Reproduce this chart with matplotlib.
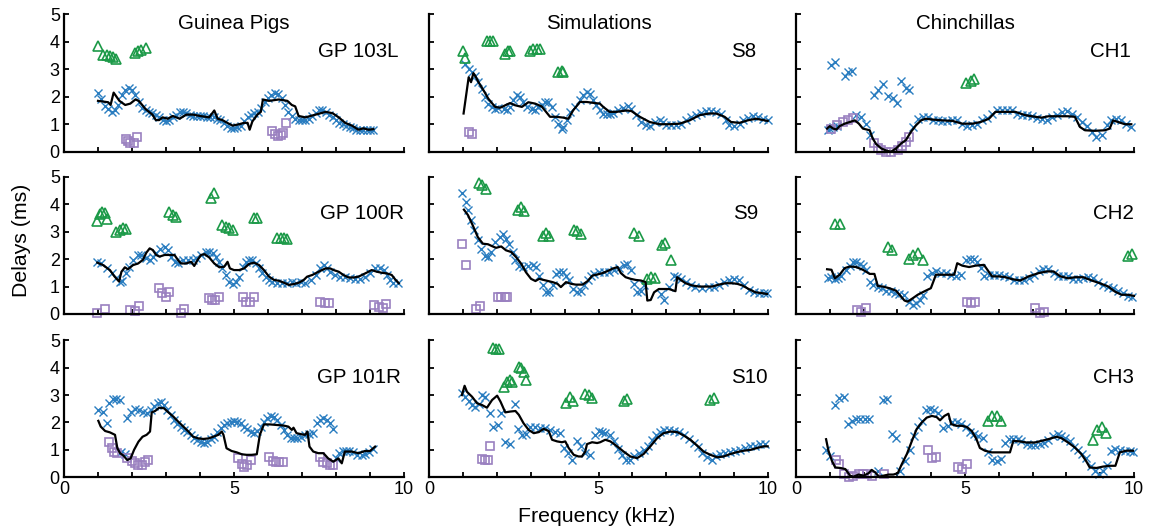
import matplotlib
matplotlib.use("Agg")
import matplotlib.pyplot as plt

plt.rcParams['font.family'] = ['Liberation Sans', 'DejaVu Sans']

# ---- data: (frequency kHz, delay ms) pairs ----
gp103l_cross = [(1.0, 2.15), (1.1, 1.9), (1.2, 1.65), (1.3, 1.55), (1.4, 1.45), (1.5, 1.5), (1.6, 1.7),
                (1.7, 2.05), (1.8, 2.25), (1.9, 2.3), (2.0, 2.25), (2.1, 2.05), (2.2, 1.8), (2.3, 1.6),
                (2.4, 1.5), (2.5, 1.45), (2.6, 1.4), (2.7, 1.35), (2.8, 1.25), (2.9, 1.15), (3.0, 1.1),
                (3.1, 1.15), (3.2, 1.25), (3.3, 1.35), (3.4, 1.45), (3.5, 1.45), (3.6, 1.4), (3.7, 1.35),
                (3.8, 1.3), (3.9, 1.3), (4.0, 1.3), (4.1, 1.3), (4.2, 1.25), (4.3, 1.25), (4.4, 1.25),
                (4.5, 1.2), (4.6, 1.15), (4.7, 1.05), (4.8, 0.95), (4.9, 0.85), (5.0, 0.85), (5.1, 0.9),
                (5.2, 0.95), (5.3, 1.1), (5.4, 1.25), (5.5, 1.35), (5.6, 1.4), (5.7, 1.45), (5.8, 1.6),
                (5.9, 1.8), (6.0, 1.95), (6.1, 2.05), (6.2, 2.15), (6.3, 2.1), (6.4, 1.95), (6.5, 1.7),
                (6.6, 1.45), (6.7, 1.3), (6.8, 1.2), (6.9, 1.15), (7.0, 1.15), (7.1, 1.15), (7.2, 1.2),
                (7.3, 1.3), (7.4, 1.4), (7.5, 1.5), (7.6, 1.5), (7.7, 1.45), (7.8, 1.35), (7.9, 1.25),
                (8.0, 1.15), (8.1, 1.05), (8.2, 1.0), (8.3, 0.95), (8.4, 0.9), (8.5, 0.85), (8.6, 0.8),
                (8.7, 0.8), (8.8, 0.8), (8.9, 0.8), (9.0, 0.8), (9.1, 0.8)]
gp103l_line = [(1.0, 1.85), (1.3, 1.8), (1.37, 1.7), (1.46, 2.15), (1.63, 1.85), (1.8, 1.7), (1.95, 1.75),
               (2.1, 1.9), (2.2, 1.85), (2.4, 1.55), (2.6, 1.35), (2.7, 1.15), (2.8, 1.15), (2.9, 1.25),
               (3.05, 1.2), (3.2, 1.3), (3.4, 1.2), (3.6, 1.35), (3.8, 1.35), (4.0, 1.3), (4.27, 1.25),
               (4.42, 1.5), (4.52, 1.2), (4.66, 1.15), (4.8, 1.05), (4.96, 0.95), (5.15, 1.0), (5.3, 1.05),
               (5.4, 1.05), (5.46, 0.8), (5.54, 1.1), (5.69, 1.35), (5.79, 1.45), (5.85, 1.9), (6.03, 1.85),
               (6.32, 1.9), (6.57, 1.85), (6.7, 1.7), (6.8, 1.65), (6.9, 1.3), (7.1, 1.25), (7.4, 1.35),
               (7.7, 1.45), (7.9, 1.4), (8.08, 1.25), (8.27, 1.05), (8.47, 0.95), (8.66, 0.8), (8.8, 0.85),
               (8.96, 0.8), (9.1, 0.82)]
gp103l_tri = [(1.0, 3.86), (1.15, 3.52), (1.25, 3.52), (1.35, 3.5), (1.45, 3.46), (1.52, 3.36),
              (2.08, 3.6), (2.18, 3.66), (2.27, 3.7), (2.4, 3.76)]
gp103l_sq = [(1.81, 0.45), (1.88, 0.39), (1.95, 0.33), (2.06, 0.33), (2.16, 0.52), (6.13, 0.76),
             (6.22, 0.64), (6.3, 0.57), (6.39, 0.6), (6.45, 0.69), (6.52, 1.03)]

s8_cross = [(1.07, 3.19), (1.17, 3.0), (1.26, 2.9), (1.36, 2.77), (1.46, 2.53), (1.56, 2.29), (1.66, 2.0),
            (1.75, 1.75), (1.85, 1.63), (1.95, 1.57), (2.05, 1.6), (2.2, 1.57), (2.29, 1.5), (2.39, 1.63),
            (2.49, 1.87), (2.59, 2.05), (2.69, 2.0), (2.78, 1.8), (2.88, 1.63), (3.03, 1.57), (3.13, 1.5),
            (3.23, 1.63), (3.32, 1.69), (3.42, 1.8), (3.52, 1.8), (3.62, 1.63), (3.72, 1.27), (3.81, 1.02),
            (3.91, 0.84), (3.96, 0.9), (4.06, 1.14), (4.16, 1.45), (4.3, 1.63), (4.45, 1.87), (4.55, 2.05),
            (4.65, 2.17), (4.75, 2.11), (4.84, 1.87), (4.94, 1.69), (5.04, 1.5), (5.14, 1.39), (5.24, 1.39),
            (5.33, 1.39), (5.43, 1.41), (5.58, 1.5), (5.73, 1.6), (5.87, 1.65), (5.97, 1.57), (6.12, 1.33),
            (6.26, 1.08), (6.41, 0.96), (6.51, 0.93), (6.66, 1.08), (6.8, 1.14), (6.9, 1.08), (7.0, 0.96),
            (7.15, 0.96), (7.29, 0.96), (7.44, 1.02), (7.59, 1.14), (7.74, 1.27), (7.88, 1.33), (8.03, 1.41),
            (8.18, 1.48), (8.32, 1.48), (8.47, 1.45), (8.62, 1.39), (8.76, 1.14), (8.86, 0.96), (9.01, 0.93),
            (9.16, 1.02), (9.25, 1.14), (9.4, 1.24), (9.55, 1.29), (9.7, 1.27), (9.84, 1.2), (9.99, 1.17)]
s8_line = [(1.02, 1.39), (1.17, 2.71), (1.24, 2.53), (1.31, 2.86), (1.36, 2.77), (1.46, 2.53), (1.61, 2.23),
           (1.75, 1.93), (1.95, 1.63), (2.1, 1.6), (2.25, 1.69), (2.39, 1.77), (2.54, 1.69), (2.74, 1.63),
           (2.93, 1.8), (3.13, 1.75), (3.32, 1.65), (3.42, 1.5), (3.57, 1.27), (3.76, 1.27), (3.96, 1.24),
           (4.11, 1.2), (4.25, 1.5), (4.45, 1.81), (4.65, 1.81), (4.89, 1.77), (5.04, 1.75), (5.14, 1.63),
           (5.33, 1.45), (5.53, 1.45), (5.82, 1.5), (5.97, 1.48), (6.22, 1.27), (6.51, 1.08), (6.8, 1.0),
           (7.1, 1.0), (7.39, 1.02), (7.69, 1.14), (7.98, 1.33), (8.27, 1.39), (8.47, 1.39), (8.72, 1.27),
           (8.91, 1.08), (9.16, 1.05), (9.4, 1.14), (9.65, 1.2), (9.99, 1.12)]
s8_tri = [(1.0, 3.65), (1.07, 3.41), (1.71, 4.04), (1.8, 4.04), (1.9, 4.04), (2.25, 3.55), (2.34, 3.65),
          (2.39, 3.67), (2.98, 3.67), (3.08, 3.73), (3.18, 3.73), (3.27, 3.73), (3.81, 2.89), (3.91, 2.95),
          (3.96, 2.89)]
s8_sq = [(1.17, 0.7), (1.28, 0.64)]

ch1_cross = [(0.95, 0.78), (1.0, 0.84), (1.1, 0.9), (1.2, 0.93), (1.78, 1.33), (1.93, 1.27), (2.08, 1.02),
             (2.2, 0.6), (1.05, 3.17), (1.15, 3.25), (1.44, 2.77), (1.54, 2.89), (1.67, 2.95), (2.32, 2.08),
             (2.42, 2.25), (2.57, 2.47), (2.72, 2.01), (2.86, 1.96), (2.98, 1.77), (3.11, 2.59), (3.25, 2.33),
             (3.35, 2.23), (3.45, 0.9), (3.6, 1.2), (3.75, 1.27), (3.9, 1.27), (4.04, 1.17), (4.19, 1.14),
             (4.33, 1.12), (4.48, 1.12), (4.63, 1.14), (4.77, 1.14), (4.92, 1.0), (5.07, 0.93), (5.22, 0.96),
             (5.36, 1.02), (5.51, 1.14), (5.66, 1.24), (5.8, 1.39), (5.95, 1.5), (6.1, 1.5), (6.25, 1.5),
             (6.39, 1.5), (6.54, 1.39), (6.69, 1.33), (6.83, 1.33), (6.98, 1.29), (7.13, 1.24), (7.27, 1.2),
             (7.42, 1.17), (7.57, 1.27), (7.72, 1.33), (7.86, 1.45), (8.01, 1.48), (8.16, 1.39), (8.3, 1.27),
             (8.45, 1.08), (8.6, 0.93), (8.75, 0.72), (8.89, 0.54), (9.04, 0.6), (9.19, 0.96), (9.33, 1.17),
             (9.48, 1.2), (9.63, 1.14), (9.77, 1.02), (9.92, 0.9)]
ch1_line = [(0.92, 0.84), (1.0, 0.93), (1.1, 0.84), (1.2, 0.81), (1.29, 0.93), (1.44, 1.02), (1.59, 1.08),
            (1.74, 1.14), (1.86, 1.02), (1.98, 0.84), (2.18, 0.78), (2.27, 0.48), (2.37, 0.28), (2.52, 0.12),
            (2.67, 0.04), (2.81, 0.0), (2.96, 0.12), (3.11, 0.3), (3.25, 0.42), (3.4, 0.72), (3.55, 0.96),
            (3.7, 1.14), (3.84, 1.2), (4.04, 1.17), (4.33, 1.14), (4.63, 1.12), (4.92, 1.02), (5.22, 1.02),
            (5.46, 1.08), (5.71, 1.2), (5.9, 1.45), (6.2, 1.45), (6.49, 1.45), (6.78, 1.33), (7.08, 1.27),
            (7.27, 1.24), (7.47, 1.29), (7.76, 1.29), (8.06, 1.29), (8.25, 1.27), (8.4, 0.9), (8.55, 0.78),
            (8.84, 0.76), (9.14, 0.78), (9.28, 0.84), (9.38, 1.14), (9.53, 1.08), (9.73, 1.0), (9.92, 1.0)]
ch1_tri = [(5.04, 2.49), (5.17, 2.59), (5.28, 2.65)]
ch1_sq = [(1.05, 0.84), (1.2, 0.96), (1.39, 1.08), (1.54, 1.14), (1.69, 1.24), (2.32, 0.3), (2.42, 0.12),
          (2.52, 0.06), (2.67, 0.0), (2.81, 0.0), (3.01, 0.08), (3.14, 0.2), (3.25, 0.36), (3.35, 0.54)]

gp100r_cross = [(0.98, 1.9), (1.1, 1.84), (1.25, 1.66), (1.4, 1.48), (1.54, 1.3), (1.64, 1.18), (1.72, 1.21),
                (1.81, 1.48), (1.91, 1.72), (2.03, 1.97), (2.18, 2.15), (2.27, 2.15), (2.4, 2.03), (2.52, 1.97),
                (2.61, 2.09), (2.71, 2.23), (2.83, 2.35), (2.96, 2.43), (3.05, 2.33), (3.15, 2.09), (3.25, 1.9),
                (3.35, 1.84), (3.49, 1.97), (3.64, 1.97), (3.79, 1.97), (3.88, 2.03), (4.03, 2.15), (4.18, 2.27),
                (4.27, 2.27), (4.37, 2.21), (4.47, 2.09), (4.57, 1.9), (4.66, 1.66), (4.76, 1.42), (4.86, 1.18),
                (4.96, 1.09), (5.05, 1.18), (5.15, 1.36), (5.25, 1.72), (5.35, 1.9), (5.44, 1.97), (5.54, 1.97),
                (5.64, 1.84), (5.74, 1.66), (5.83, 1.48), (5.93, 1.36), (6.03, 1.24), (6.13, 1.18), (6.27, 1.12),
                (6.42, 1.12), (6.57, 1.14), (6.71, 1.18), (6.81, 1.14), (6.96, 1.18), (7.1, 1.14), (7.25, 1.24),
                (7.4, 1.42), (7.54, 1.66), (7.64, 1.78), (7.74, 1.66), (7.83, 1.54), (7.98, 1.42), (8.13, 1.36),
                (8.27, 1.33), (8.42, 1.3), (8.57, 1.26), (8.71, 1.26), (8.86, 1.36), (9.0, 1.5), (9.15, 1.66),
                (9.3, 1.66), (9.4, 1.6), (9.49, 1.42), (9.59, 1.24), (9.69, 1.14), (9.83, 1.12)]
gp100r_line = [(0.98, 1.87), (1.15, 1.78), (1.35, 1.6), (1.49, 1.36), (1.62, 1.18), (1.69, 1.54), (1.79, 1.7),
               (1.88, 1.63), (2.03, 1.78), (2.18, 1.84), (2.32, 1.97), (2.42, 2.23), (2.52, 2.39), (2.61, 2.33),
               (2.71, 2.15), (2.81, 2.09), (2.96, 2.15), (3.1, 2.15), (3.25, 2.15), (3.35, 1.97), (3.44, 1.84),
               (3.59, 1.84), (3.74, 1.9), (3.83, 1.75), (3.93, 1.97), (4.03, 2.15), (4.13, 2.18), (4.27, 2.06),
               (4.42, 1.84), (4.57, 1.7), (4.71, 1.72), (4.81, 1.9), (4.88, 1.66), (5.0, 1.6), (5.15, 1.6),
               (5.3, 1.66), (5.44, 1.82), (5.59, 1.87), (5.74, 1.78), (5.88, 1.6), (6.03, 1.36), (6.18, 1.24),
               (6.32, 1.21), (6.47, 1.14), (6.61, 1.06), (6.76, 1.09), (6.91, 1.14), (7.05, 1.24), (7.15, 1.36),
               (7.3, 1.42), (7.49, 1.54), (7.69, 1.66), (7.83, 1.66), (7.93, 1.6), (8.08, 1.54), (8.22, 1.42),
               (8.37, 1.33), (8.52, 1.33), (8.66, 1.36), (8.86, 1.48), (9.05, 1.6), (9.2, 1.54), (9.35, 1.5),
               (9.49, 1.48), (9.64, 1.42), (9.74, 1.26), (9.85, 1.12)]
gp100r_tri = [(0.98, 3.39), (1.07, 3.64), (1.13, 3.73), (1.2, 3.69), (1.25, 3.45), (1.54, 3.0), (1.64, 3.06),
              (1.74, 3.12), (1.83, 3.08), (3.1, 3.73), (3.2, 3.6), (3.3, 3.52), (4.32, 4.21), (4.42, 4.39),
              (4.66, 3.24), (4.76, 3.18), (4.86, 3.12), (4.96, 3.06), (5.59, 3.5), (5.69, 3.48), (6.27, 2.75),
              (6.37, 2.75), (6.47, 2.75), (6.57, 2.72)]
gp100r_sq = [(0.96, 0.02), (1.22, 0.18), (1.95, 0.15), (2.08, 0.12), (2.2, 0.29), (2.78, 0.93), (2.88, 0.75),
             (2.99, 0.63), (3.1, 0.81), (3.44, 0.02), (3.52, 0.18), (4.25, 0.57), (4.35, 0.51), (4.45, 0.51),
             (4.57, 0.63), (5.25, 0.63), (5.35, 0.45), (5.46, 0.45), (5.59, 0.63), (7.54, 0.45), (7.67, 0.39),
             (7.8, 0.39), (9.13, 0.33), (9.25, 0.24), (9.37, 0.21), (9.46, 0.36)]

s9_cross = [(0.98, 4.39), (1.08, 4.09), (1.15, 3.78), (1.25, 3.41), (1.34, 3.05), (1.44, 2.68), (1.54, 2.38),
            (1.64, 2.13), (1.74, 2.07), (1.83, 2.26), (1.96, 2.62), (2.08, 2.8), (2.18, 2.9), (2.27, 2.74),
            (2.37, 2.56), (2.47, 2.26), (2.55, 1.95), (2.65, 1.73), (2.76, 1.71), (2.91, 1.73), (3.06, 1.77),
            (3.16, 1.71), (3.25, 1.4), (3.35, 1.07), (3.45, 0.79), (3.55, 0.79), (3.65, 1.04), (3.75, 1.46),
            (3.84, 1.52), (3.94, 1.52), (4.04, 1.4), (4.14, 1.22), (4.24, 0.91), (4.38, 0.79), (4.48, 0.85),
            (4.58, 1.04), (4.68, 1.22), (4.77, 1.37), (4.87, 1.46), (5.02, 1.52), (5.17, 1.52), (5.31, 1.52),
            (5.46, 1.59), (5.61, 1.68), (5.75, 1.77), (5.85, 1.83), (5.95, 1.59), (6.05, 1.1), (6.15, 0.79),
            (6.25, 0.85), (6.34, 1.04), (6.83, 0.73), (6.93, 0.51), (7.08, 1.0), (7.23, 1.4), (7.32, 1.34),
            (7.42, 1.28), (7.57, 1.16), (7.72, 1.04), (7.86, 0.98), (8.06, 0.95), (8.25, 0.98), (8.4, 1.0),
            (8.55, 1.04), (8.7, 1.16), (8.84, 1.24), (8.99, 1.28), (9.14, 1.22), (9.28, 1.04), (9.43, 0.88),
            (9.58, 0.79), (9.73, 0.76), (9.87, 0.76), (9.97, 0.76)]
s9_line = [(1.03, 3.8), (1.15, 3.6), (1.29, 3.23), (1.44, 2.8), (1.59, 2.56), (1.74, 2.54), (1.88, 2.46),
           (1.98, 2.41), (2.13, 2.46), (2.27, 2.32), (2.42, 2.26), (2.57, 2.07), (2.72, 1.83), (2.86, 1.52),
           (3.01, 1.28), (3.14, 1.2), (3.25, 1.28), (3.45, 1.22), (3.65, 1.16), (3.79, 1.1), (3.89, 0.98),
           (4.04, 1.16), (4.19, 1.1), (4.33, 1.07), (4.53, 1.07), (4.68, 1.2), (4.82, 1.4), (4.97, 1.44),
           (5.12, 1.49), (5.26, 1.56), (5.41, 1.65), (5.56, 1.71), (5.66, 1.49), (5.8, 1.34), (5.95, 1.28),
           (6.1, 1.24), (6.25, 1.22), (6.39, 1.16), (6.44, 0.49), (6.54, 0.51), (6.64, 0.79), (6.78, 0.91),
           (6.93, 0.91), (7.08, 0.91), (7.27, 0.83), (7.32, 1.34), (7.45, 1.22), (7.57, 1.12), (7.76, 1.04),
           (7.96, 1.0), (8.16, 1.0), (8.35, 1.0), (8.55, 1.07), (8.75, 1.12), (8.94, 1.12), (9.09, 1.1),
           (9.24, 1.04), (9.43, 0.91), (9.63, 0.79), (9.82, 0.76), (9.97, 0.73)]
s9_tri = [(1.47, 4.76), (1.57, 4.7), (1.67, 4.57), (2.62, 3.8), (2.71, 3.9), (2.81, 3.76), (3.35, 2.83),
          (3.45, 2.95), (3.55, 2.83), (4.28, 3.05), (4.38, 3.02), (4.48, 2.93), (6.05, 2.95), (6.18, 2.83),
          (6.88, 2.5), (6.96, 2.59), (7.13, 1.95), (6.44, 1.28), (6.54, 1.34), (6.67, 1.32)]
s9_sq = [(0.98, 2.56), (1.08, 1.8), (1.39, 0.18), (1.49, 0.3), (2.03, 0.61), (2.13, 0.61), (2.23, 0.61),
         (2.29, 0.61)]

ch2_cross = [(0.95, 1.3), (1.05, 1.34), (1.15, 1.27), (1.25, 1.3), (1.34, 1.37), (1.49, 1.61), (1.59, 1.76),
             (1.69, 1.88), (1.78, 1.91), (1.88, 1.83), (1.98, 1.73), (2.08, 1.61), (2.2, 1.15), (2.29, 1.06),
             (2.42, 1.0), (2.55, 0.94), (2.67, 0.82), (2.81, 0.82), (2.94, 0.76), (3.06, 0.73), (3.21, 0.7),
             (3.33, 0.45), (3.45, 0.33), (3.55, 0.39), (3.67, 0.51), (3.75, 0.7), (3.89, 1.37), (4.02, 1.49),
             (4.14, 1.55), (4.28, 1.51), (4.43, 1.51), (4.58, 1.43), (4.73, 1.37), (4.87, 1.43), (5.02, 1.95),
             (5.14, 2.0), (5.26, 2.0), (5.36, 1.88), (5.46, 1.67), (5.56, 1.37), (5.71, 1.43), (5.85, 1.43),
             (6.0, 1.43), (6.15, 1.39), (6.29, 1.34), (6.44, 1.24), (6.59, 1.22), (6.74, 1.24), (6.88, 1.3),
             (7.03, 1.43), (7.18, 1.55), (7.32, 1.63), (7.47, 1.63), (7.62, 1.49), (7.76, 1.37), (7.91, 1.39),
             (8.06, 1.37), (8.2, 1.27), (8.35, 1.27), (8.5, 1.3), (8.65, 1.34), (8.79, 1.3), (8.94, 1.18),
             (9.09, 1.06), (9.24, 1.0), (9.38, 0.94), (9.53, 0.82), (9.68, 0.76), (9.82, 0.66), (9.94, 0.61)]
ch2_line = [(0.92, 1.63), (1.05, 1.61), (1.15, 1.3), (1.29, 1.43), (1.44, 1.67), (1.59, 1.73), (1.78, 1.71),
            (1.98, 1.61), (2.18, 1.46), (2.32, 1.46), (2.42, 1.02), (2.57, 1.0), (2.76, 0.94), (2.96, 0.85),
            (3.11, 0.63), (3.21, 0.49), (3.3, 0.45), (3.45, 0.57), (3.6, 0.7), (3.79, 0.82), (3.99, 0.94),
            (4.14, 1.43), (4.33, 1.43), (4.53, 1.43), (4.68, 1.43), (4.77, 1.85), (4.92, 1.76), (5.12, 1.71),
            (5.31, 1.76), (5.56, 1.79), (5.8, 1.37), (6.0, 1.37), (6.2, 1.34), (6.39, 1.27), (6.64, 1.22),
            (6.88, 1.37), (7.18, 1.49), (7.42, 1.55), (7.62, 1.55), (7.82, 1.37), (8.06, 1.3), (8.25, 1.34),
            (8.5, 1.34), (8.75, 1.22), (8.99, 1.12), (9.24, 1.0), (9.43, 0.82), (9.63, 0.7), (9.82, 0.7),
            (10.0, 0.66)]
ch2_tri = [(1.15, 3.26), (1.29, 3.26), (2.72, 2.44), (2.84, 2.32), (3.35, 2.0), (3.47, 2.16), (3.6, 2.22),
           (3.75, 1.95), (9.82, 2.1), (9.95, 2.2)]
ch2_sq = [(1.81, 0.15), (1.93, 0.09), (2.06, 0.21), (5.07, 0.45), (5.17, 0.39), (5.29, 0.45), (7.08, 0.21),
          (7.23, 0.05), (7.35, 0.09)]

gp101r_cross = [(1.01, 2.46), (1.16, 2.37), (1.25, 1.97), (1.33, 2.7), (1.43, 2.86), (1.53, 2.86), (1.65, 2.82),
                (1.67, 0.94), (1.79, 0.84), (1.86, 2.18), (1.96, 2.37), (2.09, 2.49), (2.22, 2.46), (2.33, 2.37),
                (2.43, 2.34), (2.55, 2.46), (2.65, 2.62), (2.75, 2.7), (2.84, 2.74), (2.94, 2.64), (3.04, 2.46),
                (3.14, 2.27), (3.24, 2.09), (3.33, 1.93), (3.43, 1.85), (3.53, 1.73), (3.63, 1.64), (3.73, 1.55),
                (3.82, 1.45), (3.92, 1.36), (4.02, 1.3), (4.12, 1.24), (4.22, 1.3), (4.31, 1.4), (4.41, 1.48),
                (4.51, 1.64), (4.61, 1.79), (4.71, 1.91), (4.8, 1.97), (4.9, 2.03), (5.0, 2.06), (5.1, 2.03),
                (5.2, 1.97), (5.29, 1.85), (5.39, 1.76), (5.49, 1.67), (5.59, 1.61), (5.69, 1.69), (5.78, 1.85),
                (5.88, 2.03), (5.98, 2.18), (6.08, 2.25), (6.18, 2.21), (6.27, 2.09), (6.37, 1.91), (6.47, 1.73),
                (6.57, 1.55), (6.67, 1.42), (6.76, 1.42), (6.86, 1.42), (6.96, 1.48), (7.09, 1.55), (7.22, 1.57),
                (7.33, 1.61), (7.43, 1.97), (7.53, 2.09), (7.63, 2.15), (7.73, 2.09), (7.82, 1.97), (7.9, 1.76),
                (8.0, 0.69), (8.1, 0.88), (8.2, 0.96), (8.29, 0.96), (8.39, 0.96), (8.51, 0.91), (8.63, 0.82),
                (8.75, 0.82), (8.86, 0.84), (8.98, 0.91), (9.1, 1.03)]
gp101r_line = [(1.01, 2.06), (1.08, 1.85), (1.21, 1.69), (1.35, 1.64), (1.5, 1.55), (1.57, 1.06), (1.65, 0.88),
               (1.75, 0.79), (1.86, 0.63), (1.96, 0.69), (2.06, 1.0), (2.19, 1.3), (2.31, 1.48), (2.43, 1.55),
               (2.53, 1.67), (2.58, 2.37), (2.68, 2.42), (2.8, 2.54), (2.94, 2.52), (3.07, 2.37), (3.22, 2.21),
               (3.36, 2.03), (3.51, 1.85), (3.66, 1.67), (3.8, 1.48), (3.95, 1.42), (4.1, 1.4), (4.25, 1.42),
               (4.39, 1.48), (4.54, 1.55), (4.64, 1.67), (4.69, 1.55), (4.78, 1.06), (4.93, 0.96), (5.08, 0.91),
               (5.23, 0.84), (5.37, 0.82), (5.52, 0.82), (5.67, 0.84), (5.76, 1.55), (5.88, 1.93), (6.06, 1.93),
               (6.25, 1.91), (6.45, 1.89), (6.6, 1.85), (6.7, 1.73), (6.75, 1.81), (6.84, 1.61), (6.99, 1.57),
               (7.09, 1.55), (7.16, 1.67), (7.22, 1.12), (7.33, 0.94), (7.48, 0.88), (7.63, 0.88), (7.77, 0.69),
               (7.92, 0.57), (8.07, 0.69), (8.17, 0.51), (8.26, 0.94), (8.46, 0.94), (8.66, 0.88), (8.85, 0.96),
               (9.0, 0.96), (9.15, 1.12)]
gp101r_sq = [(1.33, 1.28), (1.4, 1.08), (1.47, 0.94), (1.57, 0.88), (1.86, 0.69), (1.99, 0.6), (2.09, 0.51),
             (2.19, 0.45), (2.28, 0.45), (2.38, 0.55), (2.48, 0.63), (5.13, 0.69), (5.23, 0.47), (5.29, 0.39),
             (5.39, 0.45), (5.49, 0.63), (6.04, 0.75), (6.14, 0.6), (6.24, 0.55), (6.33, 0.55), (6.43, 0.57),
             (7.53, 0.75), (7.63, 0.57), (7.73, 0.51), (7.82, 0.45), (7.92, 0.45)]
gp101r_tri = []

s10_cross = [(0.97, 3.06), (1.07, 2.94), (1.17, 2.78), (1.27, 2.64), (1.37, 2.58), (1.47, 2.66), (1.56, 3.0),
             (1.66, 2.94), (1.79, 2.34), (1.89, 1.85), (2.03, 1.91), (2.12, 2.34), (2.25, 1.28), (2.4, 1.21),
             (2.55, 2.66), (2.62, 1.77), (2.74, 1.55), (2.87, 1.57), (2.99, 1.85), (3.14, 1.85), (3.28, 1.79),
             (3.43, 1.79), (3.58, 1.73), (3.73, 1.67), (3.87, 1.61), (3.99, 1.07), (4.09, 0.88), (4.22, 0.64),
             (4.37, 1.31), (4.48, 1.16), (4.61, 0.88), (4.76, 0.82), (4.91, 1.55), (5.01, 1.69), (5.1, 1.67),
             (5.2, 1.61), (5.33, 1.55), (5.45, 1.31), (5.57, 1.04), (5.69, 0.8), (5.82, 0.64), (5.94, 0.64),
             (6.06, 0.76), (6.18, 0.88), (6.33, 1.0), (6.45, 1.16), (6.58, 1.37), (6.71, 1.53), (6.82, 1.65),
             (6.94, 1.73), (7.07, 1.73), (7.22, 1.69), (7.36, 1.65), (7.51, 1.53), (7.66, 1.4), (7.81, 1.25),
             (7.93, 1.09), (8.05, 0.88), (8.2, 0.73), (8.35, 0.64), (8.48, 0.76), (8.59, 0.85), (8.74, 0.88),
             (8.89, 0.94), (9.04, 0.97), (9.18, 1.0), (9.33, 1.07), (9.48, 1.13), (9.63, 1.16), (9.77, 1.21),
             (9.92, 1.21)]
s10_line = [(0.97, 3.0), (1.05, 3.34), (1.12, 3.12), (1.27, 2.94), (1.42, 2.7), (1.56, 2.64), (1.71, 2.54),
            (1.86, 2.82), (2.01, 2.98), (2.11, 2.76), (2.25, 2.37), (2.4, 2.4), (2.55, 2.42), (2.65, 2.28),
            (2.79, 1.97), (2.94, 1.73), (3.09, 1.61), (3.24, 1.65), (3.38, 1.77), (3.53, 1.69), (3.63, 1.37),
            (3.78, 1.31), (3.92, 1.28), (4.02, 1.31), (4.12, 1.07), (4.27, 0.82), (4.41, 0.76), (4.51, 0.76),
            (4.61, 0.94), (4.66, 1.21), (4.81, 1.28), (4.96, 1.25), (5.05, 1.28), (5.2, 1.37), (5.35, 1.31),
            (5.55, 1.13), (5.74, 0.94), (5.94, 0.76), (6.14, 0.7), (6.33, 0.85), (6.53, 1.13), (6.73, 1.43),
            (6.92, 1.61), (7.12, 1.67), (7.32, 1.65), (7.51, 1.53), (7.71, 1.37), (7.91, 1.16), (8.1, 0.94),
            (8.3, 0.82), (8.5, 0.73), (8.69, 0.76), (8.89, 0.85), (9.09, 0.92), (9.28, 0.97), (9.48, 1.0),
            (9.68, 1.07), (9.87, 1.13), (9.99, 1.13)]
s10_tri = [(1.89, 4.72), (1.99, 4.7), (2.06, 4.67), (2.22, 3.3), (2.3, 3.46), (2.38, 3.55), (2.45, 3.46),
           (2.65, 4.03), (2.72, 3.99), (2.79, 3.85), (2.87, 3.55), (4.05, 2.7), (4.15, 2.94), (4.25, 2.78),
           (4.61, 3.03), (4.71, 3.0), (4.81, 2.88), (5.74, 2.78), (5.84, 2.85), (8.3, 2.82), (8.4, 2.88)]
s10_sq = [(1.56, 0.68), (1.66, 0.64), (1.73, 0.64), (1.81, 1.13)]

ch3_cross = [(0.89, 0.99), (1.01, 0.79), (1.16, 2.64), (1.28, 2.88), (1.41, 2.93), (1.54, 1.96), (1.65, 2.06),
             (1.77, 2.12), (1.9, 2.12), (2.03, 2.12), (2.15, 2.12), (2.56, 2.81), (2.69, 2.85), (2.83, 1.57),
             (2.95, 1.43), (2.44, 0.24), (3.08, 0.24), (3.23, 0.61), (3.38, 0.99), (3.5, 1.51), (3.62, 1.82),
             (3.72, 2.06), (3.84, 2.45), (3.97, 2.48), (4.09, 2.45), (4.21, 2.36), (4.36, 1.79), (4.49, 1.88),
             (4.61, 2.0), (4.75, 2.0), (4.88, 1.94), (5.02, 1.82), (5.15, 1.67), (5.28, 1.57), (5.39, 1.51),
             (5.54, 1.45), (5.67, 0.91), (5.81, 0.63), (5.94, 0.61), (6.07, 0.67), (6.18, 1.27), (6.3, 1.39),
             (6.43, 1.39), (6.56, 1.39), (6.67, 1.31), (6.82, 1.21), (6.95, 1.19), (7.07, 1.19), (7.21, 1.21),
             (7.34, 1.27), (7.46, 1.36), (7.61, 1.51), (7.74, 1.57), (7.85, 1.51), (7.97, 1.43), (8.1, 1.31),
             (8.23, 1.11), (8.35, 0.99), (8.46, 0.85), (8.59, 0.7), (8.72, 0.42), (8.84, 0.24), (8.96, 0.12),
             (9.08, 0.24), (9.21, 0.46), (9.33, 0.97), (9.45, 1.03), (9.58, 0.99), (9.72, 0.97), (9.87, 0.97),
             (9.97, 0.94)]
ch3_line = [(0.89, 1.39), (0.96, 0.97), (1.06, 0.61), (1.16, 0.36), (1.31, 0.34), (1.46, 0.3), (1.6, 0.06),
            (1.7, 0.02), (1.85, 0.1), (2.0, 0.06), (2.15, 0.15), (2.24, 0.27), (2.34, 0.18), (2.46, 0.02),
            (2.59, 0.06), (2.74, 0.1), (2.88, 0.1), (3.01, 0.15), (3.13, 0.48), (3.28, 0.85), (3.43, 1.33),
            (3.57, 1.76), (3.72, 2.0), (3.87, 2.18), (4.02, 2.24), (4.16, 2.2), (4.26, 2.08), (4.39, 2.24),
            (4.51, 2.32), (4.59, 1.94), (4.75, 1.88), (4.9, 1.88), (5.05, 1.84), (5.2, 1.69), (5.34, 1.39),
            (5.44, 1.07), (5.59, 0.97), (5.79, 0.91), (5.98, 0.91), (6.18, 0.91), (6.33, 0.91), (6.43, 1.33),
            (6.62, 1.31), (6.82, 1.27), (7.07, 1.27), (7.26, 1.33), (7.46, 1.39), (7.71, 1.48), (7.85, 1.43),
            (8.05, 1.27), (8.25, 1.09), (8.44, 0.85), (8.59, 0.58), (8.69, 0.36), (8.89, 0.34), (9.08, 0.39),
            (9.28, 0.42), (9.45, 0.42), (9.58, 0.91), (9.77, 0.97), (9.97, 0.97)]
ch3_tri = [(5.69, 2.06), (5.81, 2.24), (5.94, 2.24), (6.07, 2.06), (8.79, 1.36), (8.92, 1.72), (9.06, 1.82),
           (9.18, 1.63)]
ch3_sq = [(1.18, 0.63), (1.28, 0.48), (1.41, 0.12), (1.56, 0.02), (1.7, 0.06), (1.85, 0.12), (1.97, 0.12),
          (2.1, 0.12), (2.24, 0.06), (2.59, 0.12), (3.9, 0.99), (4.02, 0.7), (4.14, 0.75), (4.78, 0.36),
          (4.92, 0.3), (5.05, 0.48)]

panel_names = [["GP 103L", "S8", "CH1"], ["GP 100R", "S9", "CH2"], ["GP 101R", "S10", "CH3"]]
column_titles = ["Guinea Pigs", "Simulations", "Chinchillas"]
panels = [
    [(gp103l_cross, gp103l_line, gp103l_tri, gp103l_sq),
     (s8_cross, s8_line, s8_tri, s8_sq),
     (ch1_cross, ch1_line, ch1_tri, ch1_sq)],
    [(gp100r_cross, gp100r_line, gp100r_tri, gp100r_sq),
     (s9_cross, s9_line, s9_tri, s9_sq),
     (ch2_cross, ch2_line, ch2_tri, ch2_sq)],
    [(gp101r_cross, gp101r_line, gp101r_tri, gp101r_sq),
     (s10_cross, s10_line, s10_tri, s10_sq),
     (ch3_cross, ch3_line, ch3_tri, ch3_sq)],
]

# ---- layout (pixels of a 1149x531 canvas) ----
W, H = 1149, 531
col_x = [(64, 404), (429, 768), (796, 1134)]
row_y = [(14.3, 151.7), (176.7, 314.0), (340.3, 477.3)]
label_x = [[0.985, 0.965, 0.99], [1.0, 0.97, 1.0], [0.99, 1.0, 1.0]]

c_cross = '#2a7dc0'
c_tri = '#1c9a48'
c_sq = '#9a80c0'

fig = plt.figure(figsize=(W / 100, H / 100), dpi=100)

for r in range(3):
    for c in range(3):
        x0, x1 = col_x[c]
        y0, y1 = row_y[r]
        ax = fig.add_axes([x0 / W, 1 - y1 / H, (x1 - x0) / W, (y1 - y0) / H])
        cross, line, tri, sq = panels[r][c]
        if cross:
            f, d = zip(*cross)
            ax.plot(f, d, 'x', color=c_cross, ms=5.2, mew=1.0, clip_on=False)
        if sq:
            f, d = zip(*sq)
            ax.plot(f, d, 's', color=c_sq, mfc='none', ms=5.5, mew=1.2, clip_on=False)
        if tri:
            f, d = zip(*tri)
            ax.plot(f, d, '^', color=c_tri, mfc='none', ms=7.5, mew=1.2, clip_on=False)
        f, d = zip(*line)
        ax.plot(f, d, '-', color='black', lw=1.6, clip_on=False)

        ax.set_xlim(0, 10)
        ax.set_ylim(0, 5)
        for s in ['top', 'right']:
            ax.spines[s].set_visible(False)
        for s in ['left', 'bottom']:
            ax.spines[s].set_linewidth(1.6)
        ax.tick_params(direction='in', length=3.5, width=1.3, labelsize=13, pad=3)
        ax.set_xticks(range(11))
        if r == 2:
            ax.set_xticklabels(['0', '', '', '', '', '5', '', '', '', '', '10'])
        else:
            ax.set_xticklabels([])
        ax.set_yticks(range(6))
        if c != 0:
            ax.set_yticklabels([])
        if r == 0:
            ax.text(0.5, 0.935, column_titles[c], transform=ax.transAxes, ha='center', va='center',
                    fontsize=14.8)
        ax.text(label_x[r][c], 0.73, panel_names[r][c], transform=ax.transAxes, ha='right', va='center',
                fontsize=14.8)

fig.text(597 / W, 1 - 517 / H, 'Frequency (kHz)', ha='center', va='center', fontsize=15.3)
fig.text(22 / W, 1 - 240 / H, 'Delays (ms)', ha='center', va='center', rotation=90, fontsize=15.3)

fig.savefig('out.png', dpi=100)
